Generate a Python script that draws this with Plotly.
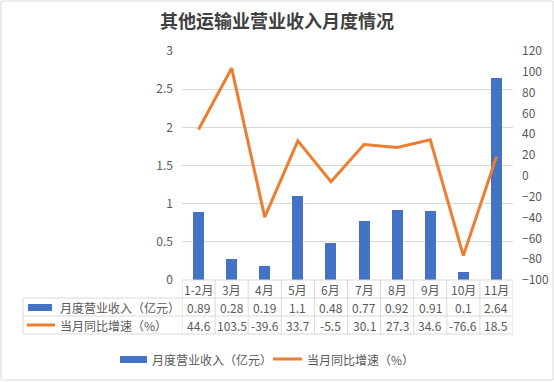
import plotly.graph_objects as go

categories = ["1-2月", "3月", "4月", "5月", "6月", "7月", "8月", "9月", "10月", "11月"]
revenue = [0.89, 0.28, 0.19, 1.1, 0.48, 0.77, 0.92, 0.91, 0.1, 2.64]
growth = [44.6, 103.5, -39.6, 33.7, -5.5, 30.1, 27.3, 34.6, -76.6, 18.5]
revenue_name = "月度营业收入（亿元）"
growth_name = "当月同比增速（%）"
title_text = "其他运输业营业收入月度情况"

W, H = 554, 382
PL, PR, PT, PB = 182, 513, 51, 280  # plot area in pixels
BLUE = "#4472C4"
ORANGE = "#ED7D31"
GRID = "#D9D9D9"
TXT = "#595959"
FONT = "Noto Sans CJK SC"


def px(x):
    return (x - PL) / (PR - PL)


def py(y):
    return (PB - y) / (PB - PT)


fig = go.Figure()
fig.add_trace(go.Bar(x=categories, y=revenue, name=revenue_name,
                     marker=dict(color=BLUE, line=dict(width=0)), width=0.33, yaxis="y"))
fig.add_trace(go.Scatter(x=categories, y=growth, name=growth_name, mode="lines",
                         line=dict(color=ORANGE, width=3), yaxis="y2"))

shapes = []
shapes.append(dict(type="line", xref="paper", yref="paper", x0=px(PL), x1=px(PR),
                   y0=py(280), y1=py(280), line=dict(color=GRID, width=1)))
for yy in [298, 316, 334]:
    shapes.append(dict(type="line", xref="paper", yref="paper", x0=px(23), x1=px(PR),
                       y0=py(yy), y1=py(yy), line=dict(color=GRID, width=1)))
for i in range(len(categories) + 1):
    shapes.append(dict(type="line", xref="x", yref="paper", x0=i - 0.5, x1=i - 0.5,
                       y0=py(280), y1=py(334), line=dict(color=GRID, width=1)))
shapes.append(dict(type="line", xref="paper", yref="paper", x0=px(23), x1=px(23),
                   y0=py(298), y1=py(334), line=dict(color=GRID, width=1)))
# table legend keys
shapes.append(dict(type="rect", xref="paper", yref="paper", x0=px(28), x1=px(52),
                   y0=py(304), y1=py(311), fillcolor=BLUE, line=dict(width=0)))
shapes.append(dict(type="line", xref="paper", yref="paper", x0=px(27), x1=px(55),
                   y0=py(325), y1=py(325), line=dict(color=ORANGE, width=3)))
# bottom legend keys
shapes.append(dict(type="rect", xref="paper", yref="paper", x0=px(120), x1=px(147),
                   y0=py(356), y1=py(363), fillcolor=BLUE, line=dict(width=0)))
shapes.append(dict(type="line", xref="paper", yref="paper", x0=px(273), x1=px(302),
                   y0=py(359), y1=py(359), line=dict(color=ORANGE, width=3)))
# chart border
shapes.append(dict(type="rect", xref="paper", yref="paper", x0=px(1), x1=px(553),
                   y0=py(1), y1=py(380), line=dict(color=GRID, width=1), layer="below"))

ann = []
f = dict(family=FONT, size=12, color=TXT)
for c, r, g in zip(categories, revenue, growth):
    for yy, t in [(289, c), (307, f"{r:g}"), (325, f"{g:g}")]:
        ann.append(dict(x=c, xref="x", y=py(yy), yref="paper", text=t, showarrow=False,
                        xanchor="center", yanchor="middle", font=f))
for xx, yy, t in [(58, 307, revenue_name), (58, 325, growth_name),
                  (150, 359, revenue_name), (305, 359, growth_name)]:
    ann.append(dict(x=px(xx), xref="paper", y=py(yy), yref="paper", text=t,
                    showarrow=False, xanchor="left", yanchor="middle", font=f))

fig.update_layout(
    width=W, height=H,
    margin=dict(l=PL, r=W - PR, t=PT, b=H - PB, pad=0, autoexpand=False),
    paper_bgcolor="white", plot_bgcolor="white",
    showlegend=False,
    bargap=0,
    title=dict(text=f"<b>{title_text}</b>", x=0.5, xref="container", xanchor="center",
               y=1 - 22 / H, yref="container", yanchor="middle",
               font=dict(family=FONT, size=18, color="#404040")),
    font=dict(family=FONT, size=12, color=TXT),
    xaxis=dict(type="category", range=[-0.5, len(categories) - 0.5], showticklabels=False,
               showgrid=False, zeroline=False, showline=False, ticks=""),
    yaxis=dict(range=[0, 3], dtick=0.5, showgrid=True, gridcolor=GRID, gridwidth=1,
               zeroline=False, showline=False, ticks="", ticklabelstandoff=8,
               tickfont=dict(family=FONT, size=12, color=TXT)),
    yaxis2=dict(range=[-100, 120], dtick=20, overlaying="y", side="right", showgrid=False,
                zeroline=False, showline=False, ticks="", ticklabelstandoff=8,
                tickfont=dict(family=FONT, size=12, color=TXT)),
    shapes=shapes,
    annotations=ann,
)

fig.write_html(
    "out.html",
    config={"displayModeBar": False},
    post_script="document.body.style.margin='0';document.body.style.padding='0';"
                "document.documentElement.style.margin='0';",
)
